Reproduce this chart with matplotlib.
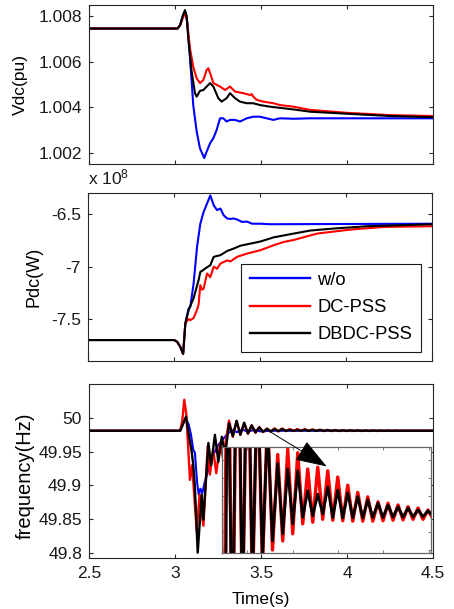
import numpy as np
import matplotlib
matplotlib.use("Agg")
import matplotlib.pyplot as plt

plt.rcParams['font.family'] = ['Liberation Sans', 'DejaVu Sans']
plt.rcParams['axes.unicode_minus'] = False
plt.rcParams['mathtext.default'] = 'regular'

FS = 12.5
labels = ['w/o', 'DC-PSS', 'DBDC-PSS']
colors = ['#0000ff', '#ff0000', '#000000']

# ---- Vdc (pu) ----
vdc_blue_t = [2.5, 3.015, 3.03, 3.045, 3.058, 3.07, 3.083, 3.097, 3.106, 3.126, 3.145, 3.17, 3.184,
              3.204, 3.223, 3.242, 3.262, 3.281, 3.30, 3.32, 3.349, 3.378, 3.417, 3.455, 3.494, 3.533,
              3.572, 3.61, 3.69, 3.785, 4.5]
vdc_blue = [1.00745, 1.00745, 1.0076, 1.008, 1.0082, 1.0078, 1.0066, 1.00513, 1.0041, 1.00294, 1.00221,
            1.00178, 1.00206, 1.00243, 1.00265, 1.00301, 1.00352, 1.00352, 1.00338, 1.00345, 1.00345,
            1.00338, 1.00352, 1.00359, 1.00359, 1.00352, 1.00345, 1.00352, 1.0035, 1.00352, 1.00352]
vdc_red_t = [2.5, 3.015, 3.03, 3.045, 3.056, 3.068, 3.087, 3.106, 3.126, 3.145, 3.165, 3.184, 3.194,
             3.208, 3.223, 3.262, 3.291, 3.32, 3.349, 3.397, 3.436, 3.446, 3.455, 3.475, 3.513, 3.572,
             3.61, 3.688, 3.785, 4.0, 4.25, 4.5]
vdc_red = [1.00745, 1.00745, 1.0076, 1.0079, 1.00812, 1.0079, 1.00659, 1.00578, 1.00527, 1.00506,
           1.0052, 1.00564, 1.00571, 1.00542, 1.00506, 1.00491, 1.00476, 1.00491, 1.00469, 1.00462,
           1.00454, 1.00458, 1.00447, 1.00433, 1.00425, 1.00418, 1.0041, 1.00403, 1.00389, 1.00376,
           1.00366, 1.00362]
vdc_black_t = [2.5, 3.015, 3.03, 3.045, 3.058, 3.068, 3.077, 3.097, 3.116, 3.126, 3.145, 3.165, 3.184,
               3.204, 3.223, 3.252, 3.271, 3.30, 3.32, 3.349, 3.378, 3.417, 3.455, 3.494, 3.552, 3.63,
               3.708, 3.785, 4.0, 4.25, 4.5]
vdc_black = [1.00745, 1.00745, 1.0076, 1.008, 1.00826, 1.0080, 1.00702, 1.00556, 1.00462, 1.00447,
             1.00472, 1.00476, 1.00491, 1.00506, 1.00491, 1.0044, 1.00425, 1.0044, 1.00462, 1.0044,
             1.00425, 1.00418, 1.00418, 1.0041, 1.00403, 1.00396, 1.00389, 1.00381, 1.00372, 1.00362,
             1.00357]

# ---- Pdc (x 1e8 W) ----
pdc_start_t = [2.5, 3.0, 3.018, 3.035, 3.053, 3.066]
pdc_start = [-7.70, -7.70, -7.716, -7.76, -7.833, -7.54]
pdc_blue_t = [3.085, 3.095, 3.114, 3.134, 3.153, 3.172, 3.192, 3.211, 3.231, 3.25, 3.27, 3.289, 3.309,
              3.328, 3.347, 3.367, 3.396, 3.425, 3.454, 3.502, 3.56, 4.5]
pdc_blue = [-7.40, -7.38, -7.16, -6.81, -6.59, -6.478, -6.398, -6.32, -6.414, -6.46, -6.445, -6.51,
            -6.54, -6.545, -6.54, -6.55, -6.573, -6.57, -6.59, -6.59, -6.595, -6.59]
pdc_red_t = [3.085, 3.095, 3.114, 3.134, 3.143, 3.153, 3.163, 3.172, 3.192, 3.211, 3.231, 3.25, 3.27,
             3.309, 3.328, 3.367, 3.425, 3.502, 3.58, 3.638, 3.696, 3.832, 4.026, 4.22, 4.5]
pdc_red = [-7.50, -7.51, -7.49, -7.41, -7.36, -7.176, -7.22, -7.21, -7.065, -7.10, -7.0, -7.02, -6.97,
           -6.94, -6.95, -6.906, -6.875, -6.843, -6.795, -6.764, -6.745, -6.684, -6.646, -6.621, -6.614]
pdc_black_t = [3.085, 3.114, 3.143, 3.153, 3.163, 3.182, 3.211, 3.231, 3.27, 3.309, 3.347, 3.386, 3.444,
               3.502, 3.58, 3.696, 3.793, 3.929, 4.123, 4.5]
pdc_black = [-7.414, -7.30, -7.128, -7.05, -7.04, -7.017, -6.986, -6.906, -6.89, -6.85, -6.827, -6.80,
             -6.78, -6.76, -6.72, -6.684, -6.655, -6.636, -6.614, -6.595]

# ---- frequency (Hz) ----
f_steady = 49.981
f_blue_t = [2.5, 3.03, 3.045, 3.062, 3.08, 3.093, 3.106, 3.116, 3.128, 3.138, 3.148, 3.158, 3.174, 3.19,
            3.213, 3.252, 3.30, 3.33, 3.36, 3.39, 3.42, 3.46, 3.50, 3.55, 4.5]
f_blue = [49.981, 49.981, 49.99, 50.0, 49.99, 49.975, 49.953, 49.948, 49.905, 49.886, 49.895, 49.888,
          49.906, 49.92, 49.94, 49.96, 49.975, 49.982, 49.979, 49.983, 49.98, 49.982, 49.98, 49.981, 49.981]
f_red_t = [2.5, 3.03, 3.042, 3.054, 3.066, 3.087, 3.10, 3.126, 3.143, 3.165, 3.19, 3.203, 3.222, 3.24,
           3.262, 3.28, 3.298]
f_red = [49.981, 49.981, 49.995, 50.027, 50.005, 49.908, 49.93, 49.832, 49.886, 49.84, 49.958, 49.916,
         49.953, 49.918, 49.962, 49.94, 49.97]
f_black_t = [2.5, 3.03, 3.045, 3.064, 3.08, 3.097, 3.105, 3.115, 3.132, 3.155, 3.165, 3.194, 3.21, 3.232,
             3.252, 3.272, 3.292]
f_black = [49.981, 49.981, 49.99, 50.002, 49.975, 49.95, 49.933, 49.90, 49.80, 49.886, 49.849, 49.963,
           49.93, 49.975, 49.935, 49.972, 49.945]
# peaks / troughs of the ~22 Hz ringing after 3.3 s, deviation from steady value in mHz
osc_t = [3.314, 3.336, 3.358, 3.380, 3.402, 3.424, 3.446, 3.468, 3.490, 3.512, 3.535, 3.557, 3.579,
         3.601, 3.623, 3.645, 3.667, 3.689, 3.711, 3.733, 3.755, 3.777, 3.799, 3.821, 3.843, 3.865,
         3.887, 3.909, 3.931, 3.953, 3.976, 3.998, 4.020, 4.042, 4.064, 4.086, 4.108, 4.130, 4.152,
         4.174, 4.196, 4.218, 4.240, 4.262, 4.284, 4.306, 4.328, 4.350, 4.372, 4.394, 4.417, 4.439,
         4.461, 4.5]
osc_red_mhz = [15, -9, 14, -6, 11, -4.5, 8, -3, 5.5, -2.0, 3.3, -1.5, 3.6, -1.1, 3.4, -0.55, 2.5, -0.46,
               2.6, -0.3, 2.4, -0.35, 2.05, -0.38, 1.6, -0.4, 1.2, -0.4, 0.95, -0.4, 0.67, -0.38, 0.6,
               -0.35, 0.5, -0.33, 0.4, -0.3, 0.33, -0.3, 0.22, -0.28, 0.18, -0.22, 0.15, -0.18, 0.12,
               -0.14, 0.1, -0.1, 0.08, -0.08, 0.06, 0]
osc_black_mhz = [11, -8, 15, -6, 12, -4, 8, -2.5, 5, -1.5, 2.8, -1.1, 2.5, -0.55, 2.4, -0.18, 1.3, -0.1,
                 1.1, 0, 1.5, -0.2, 1.33, -0.22, 1.17, -0.22, 0.96, -0.22, 0.78, -0.2, 0.6, -0.2, 0.5,
                 -0.18, 0.4, -0.18, 0.33, -0.16, 0.22, -0.15, 0.18, -0.13, 0.12, -0.1, 0.08, -0.08, 0.05,
                 -0.05, 0.03, -0.03, 0.02, -0.02, 0.01, 0]

red_ft = np.concatenate([f_red_t, osc_t])
red_f = np.concatenate([f_red, f_steady + np.array(osc_red_mhz) / 1000])
black_ft = np.concatenate([f_black_t, osc_t])
black_f = np.concatenate([f_black, f_steady + np.array(osc_black_mhz) / 1000])

xticks = [2.5, 3, 3.5, 4, 4.5]
xticklabels = ['2.5', '3', '3.5', '4', '4.5']
vdc_ticks = [1.002, 1.004, 1.006, 1.008]
vdc_ticklabels = ['1.002', '1.004', '1.006', '1.008']
pdc_ticks = [-7.5, -7, -6.5]
pdc_ticklabels = ['-7.5', '-7', '-6.5']
f_ticks = [49.8, 49.85, 49.9, 49.95, 50]
f_ticklabels = ['49.8', '49.85', '49.9', '49.95', '50']

fig = plt.figure(figsize=(4.54, 6.09), dpi=100)
ax1 = fig.add_axes([0.19604, 0.73071, 0.75771, 0.26108])
ax2 = fig.add_axes([0.19383, 0.40722, 0.75771, 0.27586])
ax3 = fig.add_axes([0.19604, 0.08374, 0.75771, 0.28571])
axin = fig.add_axes([0.48899, 0.09195, 0.46035, 0.17406])


def style(ax):
    ax.set_xlim(2.5, 4.5)
    ax.set_xticks(xticks)
    ax.tick_params(direction='in', top=True, right=True, length=3, width=0.8,
                   labelsize=FS, pad=5, colors='0.15', labelcolor='0.1')
    for sp in ax.spines.values():
        sp.set_color('0.15')
        sp.set_linewidth(0.8)


LW = 1.5
ax1.plot(vdc_blue_t, vdc_blue, color=colors[0], lw=LW)
ax1.plot(vdc_red_t, vdc_red, color=colors[1], lw=LW)
ax1.plot(vdc_black_t, vdc_black, color=colors[2], lw=LW)
style(ax1)
ax1.set_ylim(1.00152, 1.00848)
ax1.set_yticks(vdc_ticks)
ax1.set_yticklabels(vdc_ticklabels)
ax1.set_xticklabels([])
ax1.set_ylabel('Vdc(pu)', fontsize=FS)
ax1.yaxis.label.set_va('center')
ax1.yaxis.set_label_coords(-0.2, 0.5)

ax2.plot(pdc_start_t + pdc_blue_t, pdc_start + pdc_blue, color=colors[0], lw=LW, label=labels[0])
ax2.plot(pdc_start_t + pdc_red_t, pdc_start + pdc_red, color=colors[1], lw=LW, label=labels[1])
ax2.plot(pdc_start_t + pdc_black_t, pdc_start + pdc_black, color=colors[2], lw=LW, label=labels[2])
style(ax2)
ax2.set_ylim(-7.90, -6.297)
ax2.set_yticks(pdc_ticks)
ax2.set_yticklabels(pdc_ticklabels)
ax2.set_xticklabels([])
ax2.set_ylabel('Pdc(W)', fontsize=13)
ax2.yaxis.label.set_va('center')
ax2.yaxis.set_label_coords(-0.157, 0.5)
leg = ax2.legend(loc='lower right', bbox_to_anchor=(0.967, 0.0554), borderaxespad=0,
                 fontsize=13.2, handlelength=3.3, handletextpad=0.4, labelspacing=0.56,
                 borderpad=0.45, fancybox=False, framealpha=1, edgecolor='0.1')
leg.get_frame().set_linewidth(0.8)
for ln in leg.get_lines():
    ln.set_linewidth(1.7)
fig.text(88 / 454, 1 - 184 / 609, r'x 10$^{8}$', fontsize=FS, color='0.1')

ax3.plot(f_blue_t, f_blue, color=colors[0], lw=LW)
ax3.plot(red_ft, red_f, color=colors[1], lw=1.7)
ax3.plot(black_ft, black_f, color=colors[2], lw=1.7)
style(ax3)
ax3.set_ylim(49.7921, 50.0504)
ax3.set_yticks(f_ticks)
ax3.set_yticklabels(f_ticklabels)
ax3.set_xticklabels(xticklabels)
ax3.tick_params(axis='x', pad=6)
ax3.set_ylabel('frequency(Hz)', fontsize=14.5)
ax3.yaxis.label.set_va('center')
ax3.yaxis.set_label_coords(-0.186, 0.47)
ax3.set_xlabel('Time(s)', fontsize=FS)
ax3.xaxis.label.set_va('center')
ax3.xaxis.set_label_coords(0.5, -0.241)

# zoomed view of the ringing
axin.plot(red_ft, red_f, color=colors[1], lw=2.4)
axin.plot(black_ft, black_f, color=colors[2], lw=2.0)
axin.set_xlim(3.29, 4.209)
axin.set_ylim(f_steady - 0.00217, f_steady + 0.00372)
axin.xaxis.set_major_locator(plt.MultipleLocator(0.2))
axin.yaxis.set_major_locator(plt.MultipleLocator(0.001))
axin.tick_params(direction='in', top=True, right=True, length=2.5, width=0.6,
                 labelbottom=False, labelleft=False, colors='0.4')
for sp in axin.spines.values():
    sp.set_color('0.4')
    sp.set_linewidth(0.9)

axin.annotate('', xy=(3.882, 49.928), xycoords=ax3.transData,
              xytext=(3.552, 49.9797), textcoords=ax3.transData,
              arrowprops=dict(arrowstyle='-|>,head_length=1.0,head_width=0.35',
                              mutation_scale=20, lw=0.7, color='k', shrinkA=0, shrinkB=0),
              annotation_clip=False)

fig.savefig('out.png', dpi=100)
